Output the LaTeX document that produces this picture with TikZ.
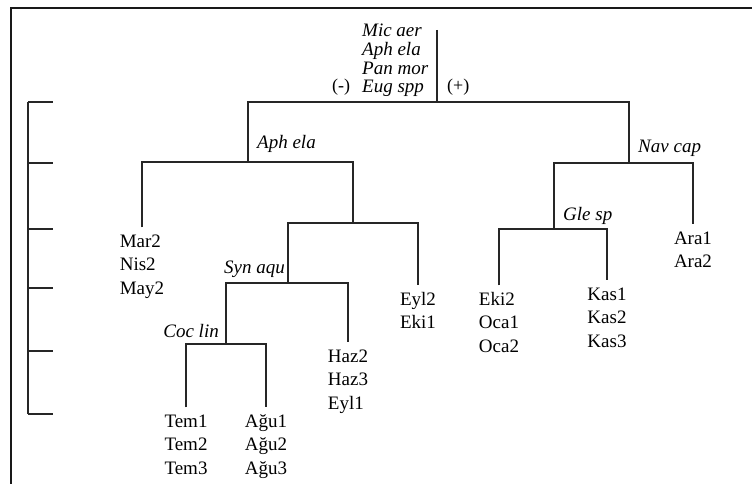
\documentclass[tikz,border=0pt]{standalone}
\usepackage{fontspec}
\setmainfont{Liberation Serif}
\newcommand\leafrows[1]{\begin{tabular}[t]{@{}l@{}}#1\end{tabular}}
\begin{document}
\begin{tikzpicture}[x=1pt,y=-1pt,
  tree/.style={draw=black!85, line width=1.5pt},
  frameline/.style={draw=black!90, line width=2.2pt},
  leaf/.style={anchor=base, inner xsep=0pt, inner ysep=3pt, font=\fontsize{19}{23.5}\selectfont},
  trait/.style={inner sep=0pt, font=\fontsize{19}{23.5}\selectfont\itshape},
  sign/.style={inner sep=0pt, anchor=base west, font=\fontsize{18}{22}\selectfont}]
\useasboundingbox (0,0) rectangle (752,484);
% frame
\draw[frameline] (11,484) -- (11,8) -- (752,8);
% scale bar
\draw[tree] (28,102) -- (28,414);
\foreach \yy in {102,163,229,288,351,414} \draw[tree] (28,\yy) -- (53,\yy);
% root labels
\node[anchor=base west, inner sep=0pt, font=\fontsize{19}{18.5}\selectfont\itshape] (traits) at (362,37) {\leafrows{Mic aer\\Aph ela\\Pan mor\\Eug spp}};
\node[sign] (minus) at (332,92) {(-)};
\node[sign] (plus) at (447,92) {(+)};
% junctions
\coordinate (rtop) at (437,30);
\coordinate (r) at (437,102);
\coordinate (L) at (248,162);
\coordinate (A) at (353,223);
\coordinate (B) at (288,283);
\coordinate (C) at (226,344);
\coordinate (R) at (629,163);
\coordinate (G) at (554,229);
% leaves
\node[leaf] (nMar) at (142,247) {\leafrows{Mar2\\Nis2\\May2}};
\node[leaf] (nEyl) at (418,305) {\leafrows{Eyl2\\Eki1}};
\node[leaf] (nHaz) at (348,362) {\leafrows{Haz2\\Haz3\\Eyl1}};
\node[leaf] (nTem) at (186,427) {\leafrows{Tem1\\Tem2\\Tem3}};
\node[leaf] (nAgu) at (266,427) {\leafrows{Ağu1\\Ağu2\\Ağu3}};
\node[leaf] (nEki) at (499,305) {\leafrows{Eki2\\Oca1\\Oca2}};
\node[leaf] (nKas) at (607,300) {\leafrows{Kas1\\Kas2\\Kas3}};
\node[leaf] (nAra) at (693,244) {\leafrows{Ara1\\Ara2}};
% split labels
\node[trait, anchor=base west] (lAph) at (257,149) {Aph ela};
\node[trait, anchor=base west] (lNav) at (638,153) {Nav cap};
\node[trait, anchor=base west] (lGle) at (563,220) {Gle sp};
\node[trait, anchor=base east] (lSyn) at (285,273) {Syn aqu};
\node[trait, anchor=base east] (lCoc) at (219,337) {Coc lin};
% tree connectors
\draw[tree] (rtop) -- (r);
\draw[tree] (L) |- (r) -| (R);
\draw[tree] (nMar.north) |- (L) -| (A);
\draw[tree] (B) |- (A) -| (nEyl.north);
\draw[tree] (C) |- (B) -| (nHaz.north);
\draw[tree] (nTem.north) |- (C) -| (nAgu.north);
\draw[tree] (G) |- (R) -| (nAra.north);
\draw[tree] (nEki.north) |- (G) -| (nKas.north);
\end{tikzpicture}
\end{document}
